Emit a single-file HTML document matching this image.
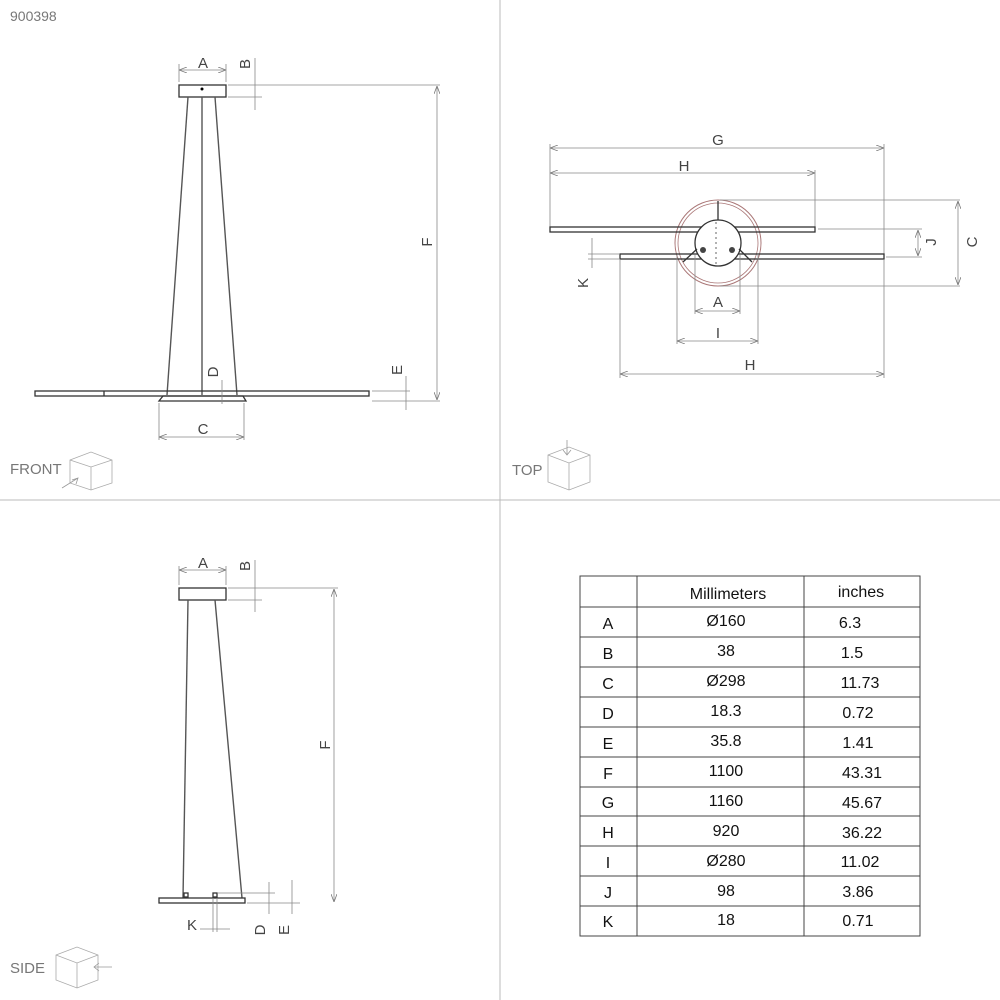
<!DOCTYPE html>
<html><head><meta charset="utf-8"><style>
html,body{margin:0;padding:0;background:#fff;}
svg{display:block;font-family:"Liberation Sans",sans-serif;}
.d{stroke:#888;stroke-width:0.8;fill:none}
.o{stroke:#333;stroke-width:1.3;fill:none}
.l{stroke:#555;stroke-width:1.4;fill:none}
.t{fill:#444;font-size:15px;text-anchor:middle}
.tb{fill:#111;font-size:16px;text-anchor:middle}
</style></head><body>
<svg width="1000" height="1000" viewBox="0 0 1000 1000">
<defs>
<marker id="a" markerWidth="8" markerHeight="6" refX="8" refY="3" orient="auto-start-reverse" markerUnits="userSpaceOnUse"><path d="M0,0 L8,3 L0,6" fill="none" stroke="#777" stroke-width="0.8"/></marker>
</defs>
<line x1="500" y1="0" x2="500" y2="1000" stroke="#bbb" stroke-width="1"/>
<line x1="0" y1="500" x2="1000" y2="500" stroke="#bbb" stroke-width="1"/>
<text x="10" y="21" fill="#777" font-size="14">900398</text>

<!-- FRONT -->
<rect x="179" y="85" width="47" height="12" class="o"/>
<circle cx="202" cy="89" r="1.5" fill="#000"/>
<line x1="188" y1="97" x2="167" y2="395" class="l"/>
<line x1="202" y1="97" x2="202" y2="395" class="l"/>
<line x1="215" y1="97" x2="237" y2="395" class="l"/>
<rect x="35" y="391" width="334" height="5" class="o"/>
<line x1="104" y1="391" x2="104" y2="396" class="o"/>
<path d="M163,396 L243,396 L246,401 L159,401 Z" class="o"/>
<line x1="179" y1="70" x2="226" y2="70" class="d" marker-start="url(#a)" marker-end="url(#a)"/>
<text x="203" y="68" class="t">A</text>
<line x1="179" y1="64" x2="179" y2="82" class="d"/><line x1="226" y1="64" x2="226" y2="82" class="d"/>
<line x1="255" y1="58" x2="255" y2="110" class="d"/>
<line x1="228" y1="85" x2="440" y2="85" class="d"/><line x1="228" y1="97" x2="262" y2="97" class="d"/>
<text x="0" y="0" class="t" transform="translate(250,64) rotate(-90)">B</text>
<line x1="437" y1="86" x2="437" y2="400" class="d" marker-start="url(#a)" marker-end="url(#a)"/>
<text x="0" y="0" class="t" transform="translate(432,242) rotate(-90)">F</text>
<line x1="372" y1="401" x2="440" y2="401" class="d"/><line x1="372" y1="391" x2="410" y2="391" class="d"/>
<line x1="406" y1="376" x2="406" y2="410" class="d"/>
<text x="0" y="0" class="t" transform="translate(402,370) rotate(-90)">E</text>
<line x1="222" y1="380" x2="222" y2="404" class="d"/>
<text x="0" y="0" class="t" transform="translate(218,372) rotate(-90)">D</text>
<line x1="159" y1="403" x2="159" y2="440" class="d"/><line x1="244" y1="403" x2="244" y2="440" class="d"/>
<line x1="159" y1="437" x2="244" y2="437" class="d" marker-start="url(#a)" marker-end="url(#a)"/>
<text x="203" y="434" class="t">C</text>
<text x="10" y="474" fill="#777" font-size="15">FRONT</text>
<path d="M70,460 L91,452 L112,460 L112,483 L91,490 L70,483 Z M70,460 L91,467 L112,460 M91,467 L91,490" fill="none" stroke="#aaa" stroke-width="0.8"/>
<path d="M62,488 L78,478 M72,480 L78,478 L76,484" fill="none" stroke="#999" stroke-width="0.8"/>

<!-- TOP -->
<line x1="550" y1="148" x2="884" y2="148" class="d" marker-start="url(#a)" marker-end="url(#a)"/>
<text x="718" y="145" class="t">G</text>
<line x1="550" y1="173" x2="815" y2="173" class="d" marker-start="url(#a)" marker-end="url(#a)"/>
<text x="684" y="171" class="t">H</text>
<line x1="550" y1="144" x2="550" y2="227" class="d"/><line x1="884" y1="144" x2="884" y2="254" class="d"/>
<line x1="815" y1="170" x2="815" y2="227" class="d"/>
<circle cx="718" cy="243" r="43" fill="none" stroke="#a77" stroke-width="1"/>
<circle cx="718" cy="243" r="40" fill="none" stroke="#a77" stroke-width="0.8"/>
<rect x="550" y="227" width="265" height="5" fill="#fff" class="o"/>
<rect x="620" y="254" width="264" height="5" fill="#fff" class="o"/>
<circle cx="718" cy="243" r="23" fill="#fff" stroke="#333" stroke-width="1.3"/>
<line x1="718" y1="201" x2="718" y2="220" class="o"/>
<line x1="697" y1="249" x2="683" y2="262" class="o"/><line x1="739" y1="249" x2="752" y2="262" class="o"/>
<circle cx="703" cy="250" r="3" fill="#444"/><circle cx="732" cy="250" r="3" fill="#444"/>
<line x1="716" y1="222" x2="716" y2="264" stroke="#666" stroke-width="1" stroke-dasharray="2,3"/>
<line x1="720" y1="200" x2="960" y2="200" class="d"/><line x1="720" y1="286" x2="960" y2="286" class="d"/>
<line x1="958" y1="201" x2="958" y2="285" class="d" marker-start="url(#a)" marker-end="url(#a)"/>
<text x="0" y="0" class="t" transform="translate(977,242) rotate(-90)">C</text>
<line x1="818" y1="229" x2="922" y2="229" class="d"/><line x1="886" y1="257" x2="922" y2="257" class="d"/>
<line x1="918" y1="230" x2="918" y2="256" class="d" marker-start="url(#a)" marker-end="url(#a)"/>
<text x="0" y="0" class="t" transform="translate(936,242) rotate(-90)">J</text>
<line x1="588" y1="254" x2="620" y2="254" class="d"/><line x1="588" y1="259" x2="620" y2="259" class="d"/>
<line x1="592" y1="238" x2="592" y2="268" class="d"/>
<text x="0" y="0" class="t" transform="translate(588,283) rotate(-90)">K</text>
<line x1="695" y1="255" x2="695" y2="314" class="d"/><line x1="740" y1="255" x2="740" y2="314" class="d"/>
<line x1="695" y1="311" x2="740" y2="311" class="d" marker-start="url(#a)" marker-end="url(#a)"/>
<text x="718" y="307" class="t">A</text>
<line x1="677" y1="255" x2="677" y2="344" class="d"/><line x1="758" y1="255" x2="758" y2="344" class="d"/>
<line x1="677" y1="341" x2="758" y2="341" class="d" marker-start="url(#a)" marker-end="url(#a)"/>
<text x="718" y="338" class="t">I</text>
<line x1="620" y1="260" x2="620" y2="378" class="d"/><line x1="884" y1="260" x2="884" y2="378" class="d"/>
<line x1="620" y1="374" x2="884" y2="374" class="d" marker-start="url(#a)" marker-end="url(#a)"/>
<text x="750" y="370" class="t">H</text>
<text x="512" y="475" fill="#777" font-size="15">TOP</text>
<path d="M548,455 L569,447 L590,455 L590,482 L569,490 L548,482 Z M548,455 L569,463 L590,455 M569,463 L569,490" fill="none" stroke="#aaa" stroke-width="0.8"/>
<path d="M567,440 L567,455 M563,450 L567,455 L571,450" fill="none" stroke="#999" stroke-width="0.8"/>

<!-- SIDE -->
<rect x="179" y="588" width="47" height="12" class="o"/>
<line x1="188" y1="600" x2="183" y2="898" class="l"/>
<line x1="215" y1="600" x2="242" y2="898" class="l"/>
<rect x="159" y="898" width="86" height="5" class="o"/>
<rect x="184" y="893" width="4" height="4" class="o"/><rect x="213" y="893" width="4" height="4" class="o"/>
<line x1="179" y1="570" x2="226" y2="570" class="d" marker-start="url(#a)" marker-end="url(#a)"/>
<text x="203" y="568" class="t">A</text>
<line x1="179" y1="566" x2="179" y2="585" class="d"/><line x1="226" y1="566" x2="226" y2="585" class="d"/>
<line x1="255" y1="560" x2="255" y2="612" class="d"/>
<line x1="228" y1="588" x2="338" y2="588" class="d"/><line x1="228" y1="600" x2="262" y2="600" class="d"/>
<text x="0" y="0" class="t" transform="translate(250,566) rotate(-90)">B</text>
<line x1="334" y1="589" x2="334" y2="902" class="d" marker-start="url(#a)" marker-end="url(#a)"/>
<text x="0" y="0" class="t" transform="translate(330,745) rotate(-90)">F</text>
<line x1="218" y1="893" x2="275" y2="893" class="d"/><line x1="247" y1="903" x2="300" y2="903" class="d"/>
<line x1="269" y1="882" x2="269" y2="914" class="d"/><line x1="292" y1="880" x2="292" y2="914" class="d"/>
<text x="0" y="0" class="t" transform="translate(265,930) rotate(-90)">D</text>
<text x="0" y="0" class="t" transform="translate(289,930) rotate(-90)">E</text>
<line x1="213" y1="898" x2="213" y2="932" class="d"/><line x1="217" y1="898" x2="217" y2="932" class="d"/>
<line x1="200" y1="929" x2="230" y2="929" class="d"/>
<text x="192" y="930" class="t">K</text>
<text x="10" y="973" fill="#777" font-size="15">SIDE</text>
<path d="M56,955 L77,947 L98,955 L98,980 L77,988 L56,980 Z M56,955 L77,963 L98,955 M77,963 L77,988" fill="none" stroke="#aaa" stroke-width="0.8"/>
<path d="M112,967 L94,967 M99,963 L94,967 L99,971" fill="none" stroke="#999" stroke-width="0.8"/>

<!-- TABLE -->
<g stroke="#444" stroke-width="1" fill="none">
<rect x="580" y="576" width="340" height="360"/>
<line x1="637" y1="576" x2="637" y2="936"/><line x1="804" y1="576" x2="804" y2="936"/>
<line x1="580" y1="607" x2="920" y2="607"/>
<line x1="580" y1="637" x2="920" y2="637"/><line x1="580" y1="667" x2="920" y2="667"/>
<line x1="580" y1="697" x2="920" y2="697"/><line x1="580" y1="727" x2="920" y2="727"/>
<line x1="580" y1="757" x2="920" y2="757"/><line x1="580" y1="787" x2="920" y2="787"/>
<line x1="580" y1="816" x2="920" y2="816"/><line x1="580" y1="846" x2="920" y2="846"/>
<line x1="580" y1="876" x2="920" y2="876"/><line x1="580" y1="906" x2="920" y2="906"/>
</g>
<text x="728" y="599" class="tb">Millimeters</text><text x="861" y="597" class="tb">inches</text>
<g class="tb">
<text x="608" y="629" class="tb">A</text><text x="726" y="626" class="tb">Ø160</text><text x="850" y="628" class="tb">6.3</text>
<text x="608" y="659" class="tb">B</text><text x="726" y="656" class="tb">38</text><text x="852" y="658" class="tb">1.5</text>
<text x="608" y="689" class="tb">C</text><text x="726" y="686" class="tb">Ø298</text><text x="860" y="688" class="tb">11.73</text>
<text x="608" y="719" class="tb">D</text><text x="726" y="716" class="tb">18.3</text><text x="858" y="718" class="tb">0.72</text>
<text x="608" y="749" class="tb">E</text><text x="726" y="746" class="tb">35.8</text><text x="858" y="748" class="tb">1.41</text>
<text x="608" y="779" class="tb">F</text><text x="726" y="776" class="tb">1100</text><text x="862" y="778" class="tb">43.31</text>
<text x="608" y="808" class="tb">G</text><text x="726" y="806" class="tb">1160</text><text x="862" y="808" class="tb">45.67</text>
<text x="608" y="838" class="tb">H</text><text x="726" y="836" class="tb">920</text><text x="862" y="838" class="tb">36.22</text>
<text x="608" y="868" class="tb">I</text><text x="726" y="866" class="tb">Ø280</text><text x="860" y="867" class="tb">11.02</text>
<text x="608" y="898" class="tb">J</text><text x="726" y="896" class="tb">98</text><text x="858" y="897" class="tb">3.86</text>
<text x="608" y="927" class="tb">K</text><text x="726" y="925" class="tb">18</text><text x="858" y="926" class="tb">0.71</text>
</g>
</svg>
</body></html>
